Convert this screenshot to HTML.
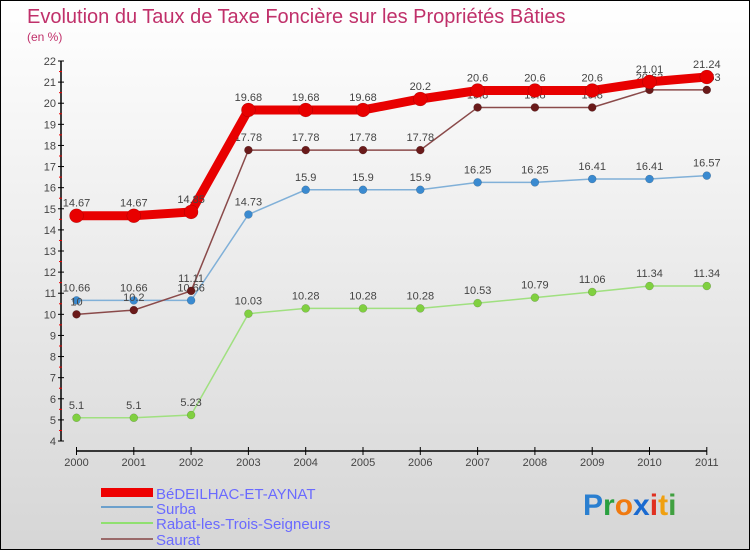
<!DOCTYPE html>
<html><head><meta charset="utf-8"><style>
body{margin:0}
#wrap{width:748px;height:548px;border:1px solid #000;background:linear-gradient(#ffffff,#d6d6d6);position:relative;overflow:hidden;font-family:"Liberation Sans",sans-serif}
svg text{font-family:"Liberation Sans",sans-serif}
</style></head><body>
<div id="wrap">
<svg id="chart" width="748" height="548">
<text x="26" y="22" font-size="20" fill="#c0306a">Evolution du Taux de Taxe Foncière sur les Propriétés Bâties</text>
<text x="26" y="40" font-size="12" fill="#c0306a">(en %)</text>
<g id="axes"></g><g id="series"></g>
<g>
<rect x="100" y="487" width="52" height="9" fill="#e00"/>
<text x="155" y="498" font-size="15" fill="#6a6aff">BéDEILHAC-ET-AYNAT</text>
<rect x="100" y="505" width="52" height="2" fill="#6ca0cc"/>
<text x="155" y="513" font-size="15" fill="#6a6aff">Surba</text>
<rect x="100" y="521" width="52" height="2" fill="#90e070"/>
<text x="155" y="528" font-size="15" fill="#6a6aff">Rabat-les-Trois-Seigneurs</text>
<rect x="100" y="537" width="52" height="2" fill="#9a6a6a"/>
<text x="155" y="544" font-size="15" fill="#6a6aff">Saurat</text>
</g>
<text x="582" y="514" font-size="30" font-weight="bold"><tspan fill="#2a7fd0">P</tspan><tspan fill="#2aa040">r</tspan><tspan fill="#f07a10">o</tspan><tspan fill="#1a6ad0">x</tspan><tspan fill="#e03020">i</tspan><tspan fill="#f0a010">t</tspan><tspan fill="#40a040">i</tspan></text>
</svg>
</div>
<script>
const years=["2000","2001","2002","2003","2004","2005","2006","2007","2008","2009","2010","2011"];
const yTicks=[4,5,6,7,8,9,10,11,12,13,14,15,16,17,18,19,20,21,22];
const bedeilhac=[14.67,14.67,14.85,19.68,19.68,19.68,20.2,20.6,20.6,20.6,21.01,21.24];
const surba=[10.66,10.66,10.66,14.73,15.9,15.9,15.9,16.25,16.25,16.41,16.41,16.57];
const rabat=[5.1,5.1,5.23,10.03,10.28,10.28,10.28,10.53,10.79,11.06,11.34,11.34];
const saurat=[10,10.2,11.11,17.78,17.78,17.78,17.78,19.8,19.8,19.8,20.63,20.63];
const NS="http://www.w3.org/2000/svg";
const X=i=>75.5+i*57.3;
const Y=v=>440-(v-4)*(380/18);
function mk(tag,attrs,parent){const e=document.createElementNS(NS,tag);for(const k in attrs)e.setAttribute(k,attrs[k]);parent.appendChild(e);return e;}
const axes=document.getElementById('axes');
let yl=mk('line',{x1:60,y1:Y(22),x2:60,y2:Y(4),stroke:'#000','stroke-width':1.5},axes);


yTicks.forEach(t=>{
 const tk=mk('line',{x1:57,x2:63,y1:Y(t),y2:Y(t),stroke:'#000'},axes);
 
 
 const tx=mk('text',{x:55,y:Y(t)+4,'font-size':11,fill:'#444','text-anchor':'end'},axes);
 tx.textContent=t;
 
 
 if(t<22){const m=mk('line',{x1:58,x2:61,y1:Y(t+0.5),y2:Y(t+0.5),stroke:'#e00'},axes);
 
 }
});
let xl=mk('line',{x1:X(0),y1:450,x2:X(11),y2:450,stroke:'#000','stroke-width':1.5},axes);


years.forEach((y,i)=>{
 const tk=mk('line',{x1:X(i),x2:X(i),y1:446,y2:454,stroke:'#000'},axes);
 
 
 const tx=mk('text',{x:X(i),y:465,'font-size':11,fill:'#444','text-anchor':'middle'},axes);
 tx.textContent=y;
 
 
});
const ser=document.getElementById('series');
function draw(vals,name,color,lw,r,dot){
 const g=mk('g',{},ser);
 
 
 const pl=mk('polyline',{points:vals.map((v,i)=>X(i)+','+Y(v)).join(' '),fill:'none',stroke:color,'stroke-width':lw},g);
 
 
 vals.forEach((v,i)=>{
  const c=mk('circle',{cx:X(i),cy:Y(v),r:r,fill:dot,stroke:'rgba(0,0,0,0.25)','stroke-width':0.5},g);
  
  
  const t=mk('text',{x:X(i),y:Y(v)-9,'font-size':11,fill:'#444','text-anchor':'middle'},g);
  t.textContent=v;
  
  
 });
}
draw(rabat,'rabat','#a0e080',1.5,4,'#80d040');
draw(surba,'surba','#80b0d8',1.5,4,'#3a8ad0');
draw(saurat,'saurat','#8a4a4a',1.5,4,'#6a1a1a');
draw(bedeilhac,'bedeilhac','#e80000',9,7,'#e80000');
</script>
</body></html>
